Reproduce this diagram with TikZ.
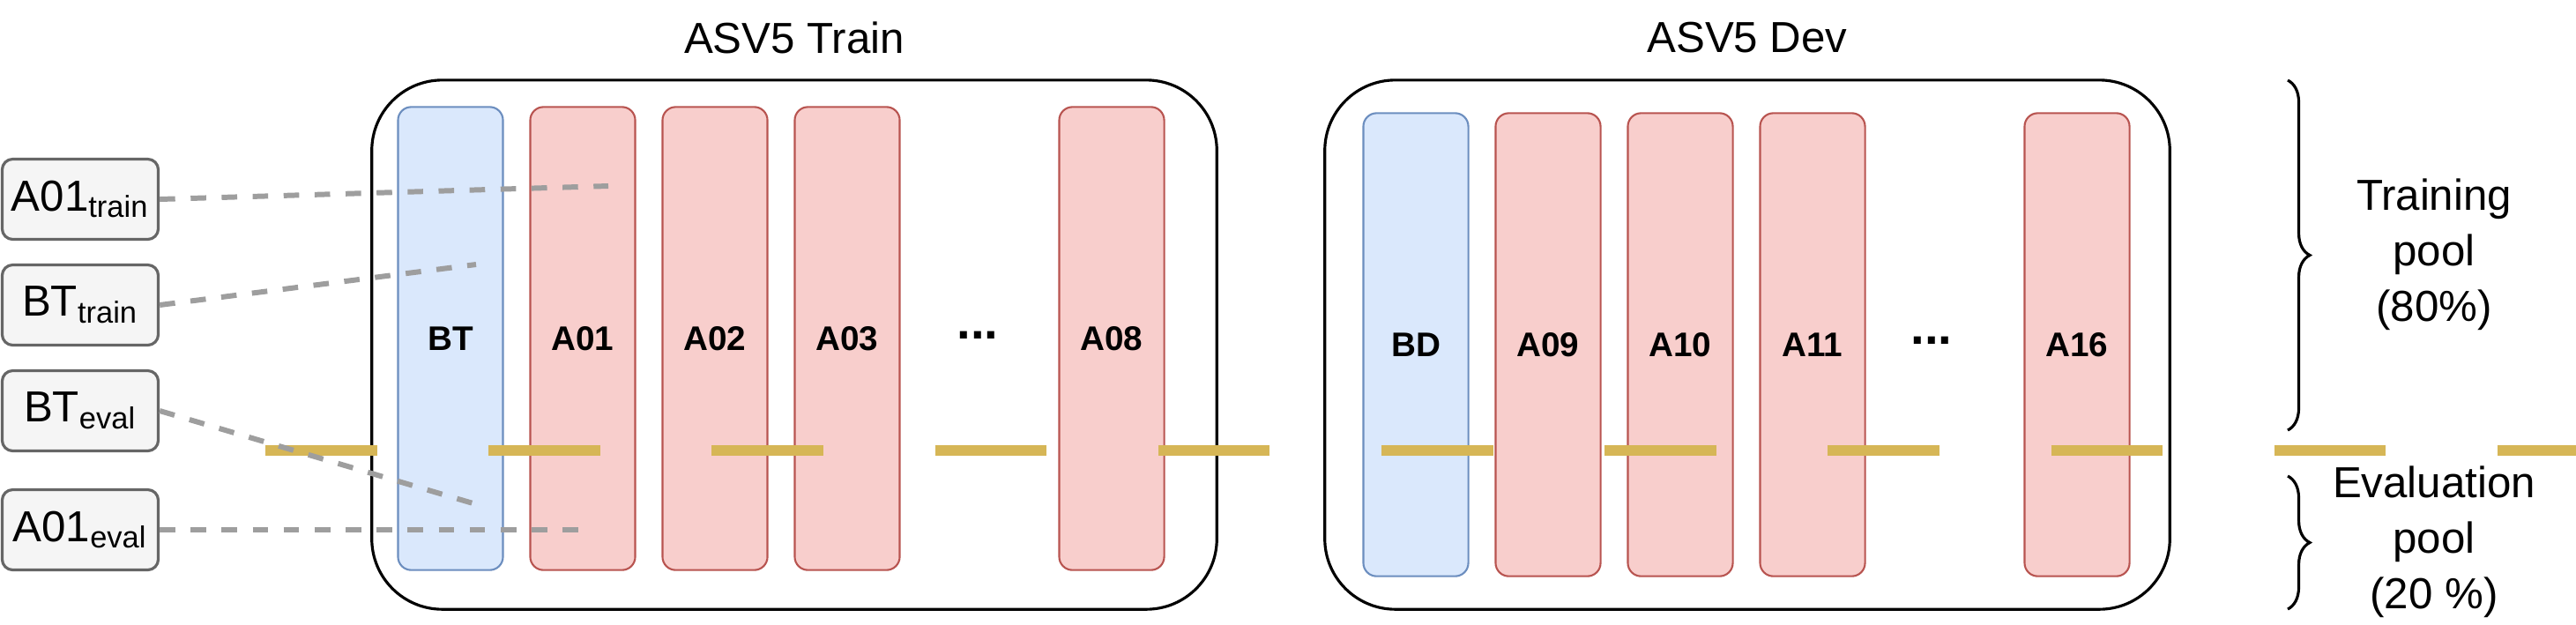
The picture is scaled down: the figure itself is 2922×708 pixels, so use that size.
\documentclass[tikz,border=0pt]{standalone}
\usepackage{fontspec}
\setmainfont{Liberation Sans}
\usetikzlibrary{decorations.pathreplacing}
\definecolor{bluefill}{HTML}{DAE8FC}
\definecolor{bluedraw}{HTML}{6C8EBF}
\definecolor{redfill}{HTML}{F8CECC}
\definecolor{reddraw}{HTML}{B85450}
\definecolor{gold}{HTML}{D6B656}
\definecolor{greyfill}{HTML}{F5F5F5}
\definecolor{greydraw}{HTML}{666666}
\tikzset{
	set/.style={draw, line width=0.9pt, rounded corners=0.8cm, minimum width=9.58cm, minimum height=6cm},
	bona/.style={draw=bluedraw, fill=bluefill, line width=0.6pt, rounded corners=0.15cm, minimum width=1.19cm, minimum height=5.25cm, font=\fontsize{11}{13}\selectfont\bfseries},
	spoof/.style={bona, draw=reddraw, fill=redfill},
	part/.style={draw=greydraw, fill=greyfill, line width=0.9pt, rounded corners=0.12cm, minimum width=1.77cm, minimum height=0.91cm, font=\fontsize{14}{16}\selectfont, inner sep=0pt},
	link/.style={draw=black!38, line width=1.7pt, dash pattern=on 5pt off 5pt},
	big/.style={font=\fontsize{14}{18}\selectfont, align=center}
}
\begin{document}
\begin{tikzpicture}[x=0.01cm, y=-0.01cm]
	\useasboundingbox (0,0) rectangle (2922,708);
	% the two sets
	\node[set] (train) at (901,391) {};
	\node[set] (dev) at (1982,391) {};
	\node[big] (traintitle) at (901,43) {ASV5 Train};
	\node[big] (devtitle) at (1982,43) {ASV5 Dev};
	\node[bona] (bt) at (511,384) {BT};
	\node[spoof] (a01) at (661,384) {A01};
	\node[spoof] (a02) at (811,384) {A02};
	\node[spoof] (a03) at (961,384) {A03};
	\node[font=\fontsize{16}{18}\selectfont\bfseries] (tdots) at (1109,380) {...};
	\node[spoof] (a08) at (1261,384) {A08};
	\node[bona] (bd) at (1606,391) {BD};
	\node[spoof] (a09) at (1756,391) {A09};
	\node[spoof] (a10) at (1906,391) {A10};
	\node[spoof] (a11) at (2056,391) {A11};
	\node[font=\fontsize{16}{18}\selectfont\bfseries] (ddots) at (2191,386) {...};
	\node[spoof] (a16) at (2356,391) {A16};
	% split line
	\coordinate (splitl) at (301,511);
	\coordinate (splitr) at (2922,511);
	\draw[gold, line width=3.4pt, dash pattern=on 36pt off 36pt] (splitl) -- (splitr);
	% partitions
	\node[part] (a01train) at (91,226) {A01\textsubscript{train}};
	\node[part] (bttrain) at (91,346) {BT\textsubscript{train}};
	\node[part] (bteval) at (91,466) {BT\textsubscript{eval}};
	\node[part] (a01eval) at (91,601) {A01\textsubscript{eval}};
	\coordinate (p1) at (690,211);
	\coordinate (p2) at (540,300);
	\coordinate (p3) at (540,572);
	\coordinate (p4) at (660,601);
	\draw[link] (a01train.east) -- (p1);
	\draw[link] (bttrain.east) -- (p2);
	\draw[link] (bteval.east) -- (p3);
	\draw[link] (a01eval.east) -- (p4);
	% pools
	\coordinate (b1t) at (2595,91);
	\coordinate (b1b) at (2595,488);
	\coordinate (b2t) at (2595,540);
	\coordinate (b2b) at (2595,691);
	\draw[decorate, decoration={brace, amplitude=0.25cm}, line width=0.9pt] (b1t) -- (b1b);
	\draw[decorate, decoration={brace, amplitude=0.25cm}, line width=0.9pt] (b2t) -- (b2b);
	\node[big, font=\fontsize{14}{17.9}\selectfont] (trainpool) at (2761,289) {Training\\pool\\(80\%)};
	\node[big, font=\fontsize{14}{17.9}\selectfont] (evalpool) at (2761,615) {Evaluation\\pool\\(20 \%)};
\end{tikzpicture}
\end{document}
